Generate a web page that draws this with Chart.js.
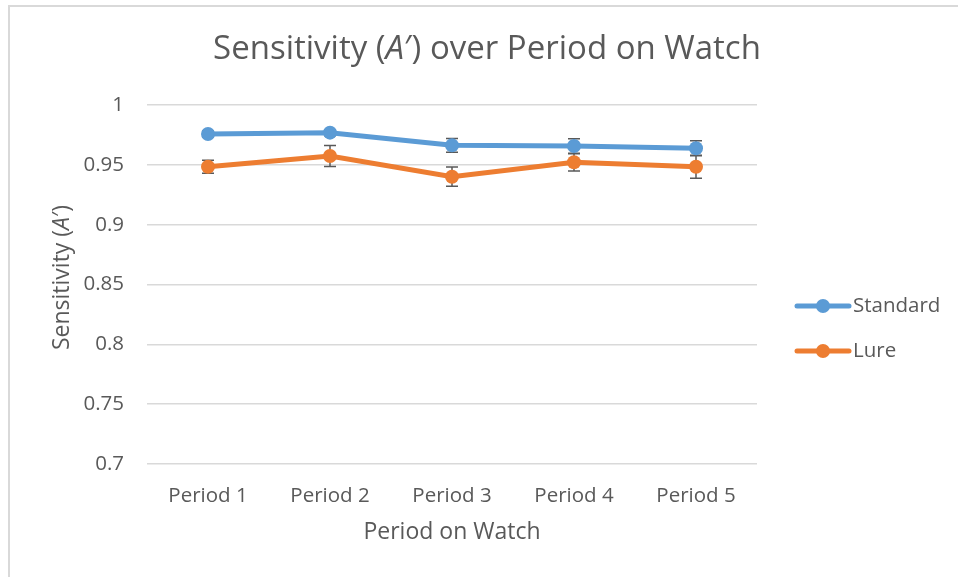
<!DOCTYPE html>
<html lang="en">
<head>
    <meta charset="UTF-8">
    <meta name="viewport" content="width=device-width, initial-scale=1.0">
    <title>Sensitivity over Period on Watch</title>
    <script src="https://cdn.jsdelivr.net/npm/chart.js"></script>
    <style>
        body { margin: 0; background: #fff; }
        #wrap { position: relative; width: 958px; height: 577px; overflow: hidden; }
        #frame { position: absolute; left: 8px; top: 5px; width: 1000px; height: 700px;
                 border-left: 2px solid #d9d9d9; border-top: 2px solid #d9d9d9; }
        #chartCanvas { position: absolute; left: 0; top: 0; }
    </style>
</head>
<body>
    <div id="wrap">
        <div id="frame"></div>
        <canvas id="chartCanvas" width="958" height="577"></canvas>
    </div>

    <script>
        const categories = ['Period 1', 'Period 2', 'Period 3', 'Period 4', 'Period 5'];
        const standard = [0.9758, 0.9769, 0.9663, 0.9657, 0.9638];
        const standardErr = [0.0025, 0.0025, 0.0058, 0.006, 0.0063];
        const lure = [0.9484, 0.9574, 0.9401, 0.9521, 0.9484];
        const lureErr = [0.0055, 0.0088, 0.008, 0.0072, 0.0097];
        const yTicks = [0.7, 0.75, 0.8, 0.85, 0.9, 0.95, 1];

        const FONT = "'Open Sans', 'DejaVu Sans', sans-serif";
        const TEXT = '#595959';
        const BLUE = '#5B9BD5';
        const ORANGE = '#ED7D31';

        const errors = [standardErr, lureErr];

        // error bars, drawn under the lines like Excel does
        const errorBars = {
            id: 'errorBars',
            beforeDatasetsDraw(chart) {
                const c = chart.ctx;
                const y = chart.scales.y;
                c.save();
                c.strokeStyle = '#595959';
                c.lineWidth = 1.5;
                chart.data.datasets.forEach((ds, i) => {
                    chart.getDatasetMeta(i).data.forEach((pt, j) => {
                        const top = y.getPixelForValue(ds.data[j] + errors[i][j]);
                        const bot = y.getPixelForValue(ds.data[j] - errors[i][j]);
                        c.beginPath();
                        c.moveTo(pt.x, top); c.lineTo(pt.x, bot);
                        c.moveTo(pt.x - 6, top); c.lineTo(pt.x + 6, top);
                        c.moveTo(pt.x - 6, bot); c.lineTo(pt.x + 6, bot);
                        c.stroke();
                    });
                });
                c.restore();
            }
        };

        // draws a run of text pieces, some in italic
        function drawRuns(c, runs, size, cx, cy) {
            const fonts = runs.map(r => (r[1] ? 'italic ' : '') + size + 'px ' + FONT);
            let total = 0;
            runs.forEach((r, i) => { c.font = fonts[i]; total += c.measureText(r[0]).width; });
            let x = cx - total / 2;
            runs.forEach((r, i) => {
                c.font = fonts[i];
                c.fillText(r[0], x, cy);
                x += c.measureText(r[0]).width;
            });
        }

        const titles = {
            id: 'titles',
            afterDraw(chart) {
                const c = chart.ctx;
                const a = chart.chartArea;
                c.save();
                c.fillStyle = TEXT;
                c.textAlign = 'left';
                c.textBaseline = 'middle';
                drawRuns(c, [['Sensitivity (', false], ['A', true], ['\u2032) over Period on Watch', false]], 33, 487, 50);

                c.save();
                c.translate(62, (a.top + a.bottom) / 2 - 7);
                c.rotate(-Math.PI / 2);
                drawRuns(c, [['Sensitivity (', false], ['A', true], ['\u2032)', false]], 23, 0, 0);
                c.restore();

                c.textAlign = 'center';
                c.font = '23px ' + FONT;
                c.fillText('Period on Watch', (a.left + a.right) / 2, 532);

                // legend: line with a marker, then the name
                chart.data.datasets.forEach((ds, i) => {
                    const ly = 306 + i * 45;
                    c.strokeStyle = ds.borderColor;
                    c.fillStyle = ds.borderColor;
                    c.lineWidth = 5;
                    c.lineCap = 'round';
                    c.beginPath(); c.moveTo(797, ly); c.lineTo(849, ly); c.stroke();
                    c.beginPath(); c.arc(823, ly, 7, 0, Math.PI * 2); c.fill();
                    c.fillStyle = TEXT;
                    c.textAlign = 'left';
                    c.font = '20.5px ' + FONT;
                    c.fillText(ds.label, 853, ly);
                });
                c.restore();
            }
        };

        const ctx = document.getElementById('chartCanvas').getContext('2d');
        const chart = new Chart(ctx, {
            type: 'line',
            data: {
                labels: categories,
                datasets: [
                    { label: 'Standard', data: standard, borderColor: BLUE, backgroundColor: BLUE,
                      borderWidth: 5, pointRadius: 7, pointHoverRadius: 7, pointBorderWidth: 0, tension: 0, yAxisID: 'y' },
                    { label: 'Lure', data: lure, borderColor: ORANGE, backgroundColor: ORANGE,
                      borderWidth: 5, pointRadius: 7, pointHoverRadius: 7, pointBorderWidth: 0, tension: 0, yAxisID: 'y' }
                ]
            },
            options: {
                responsive: false,
                animation: false,
                layout: { padding: { left: 16, top: 105, right: 0, bottom: 0 } },
                plugins: {
                    legend: { display: false },
                    title: { display: false },
                    tooltip: { enabled: false }
                },
                scales: {
                    x: {
                        offset: true,
                        grid: { display: false },
                        border: { display: false },
                        ticks: { color: TEXT, font: { family: FONT, size: 20.5 }, padding: 12, maxRotation: 0 },
                        afterFit: s => { s.height = 113; }
                    },
                    y: {
                        min: 0.7,
                        max: 1,
                        afterBuildTicks: s => { s.ticks = yTicks.map(v => ({ value: v })); },
                        grid: { color: '#d9d9d9', lineWidth: 1.5, drawTicks: false },
                        border: { display: false },
                        ticks: {
                            color: TEXT, font: { family: FONT, size: 20.5 }, padding: 23,
                            callback: v => String(+v.toFixed(2))
                        },
                        afterFit: s => { s.width = 131; }
                    },
                    // empty right-hand axis only keeps room for the legend
                    side: {
                        position: 'right',
                        display: true,
                        grid: { display: false },
                        border: { display: false },
                        ticks: { display: false },
                        afterFit: s => { s.width = 201; }
                    }
                }
            },
            plugins: [errorBars, titles]
        });
    </script>
</body>
</html>
